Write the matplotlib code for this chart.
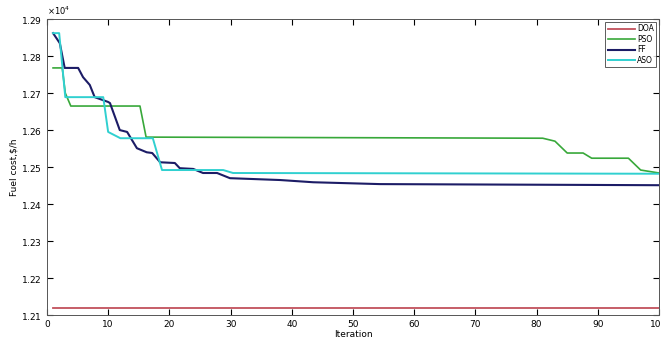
import matplotlib.pyplot as plt

# convergence curves (iteration, fuel cost $/h)
doa_it = [1, 100]
doa_cost = [12120, 12120]

pso_it = [1, 2.5, 3.0, 3.9, 15.2, 16.2, 81, 83, 85, 87.6, 89, 95, 97, 100]
pso_cost = [12768, 12768, 12700, 12665, 12665, 12581, 12578, 12570, 12538,
            12538, 12524, 12524, 12492, 12484]

ff_it = [1, 2.1, 2.9, 5.1, 5.9, 7.0, 7.8, 10.0, 10.3, 11.9, 13.1, 14.7, 16.3,
         17.2, 18.5, 20.9, 21.7, 23.9, 25.5, 27.8, 29.9, 38.1, 43.5, 54.4, 100]
ff_cost = [12862, 12835, 12768, 12768, 12743, 12722, 12689, 12676, 12673,
           12600, 12595, 12551, 12540, 12538, 12513, 12511, 12497, 12495,
           12484, 12484, 12470, 12465, 12459, 12454, 12451]

aso_it = [1, 2.0, 3.0, 9.2, 10.0, 12.0, 17.3, 18.8, 28.8, 30.4, 100]
aso_cost = [12862, 12862, 12689, 12689, 12595, 12578, 12578, 12492, 12492,
            12484, 12482]

fig = plt.figure(figsize=(6.61, 3.47), dpi=100)
ax = fig.add_axes([0.071, 0.092, 0.926, 0.853])

ax.plot(doa_it, doa_cost, color='#c2505c', lw=1.3, label='DOA')
ax.plot(pso_it, pso_cost, color='#38a83a', lw=1.2, label='PSO')
ax.plot(ff_it, ff_cost, color='#1c1c66', lw=1.5, label='FF')
ax.plot(aso_it, aso_cost, color='#30d0d0', lw=1.4, label='ASO')

ax.set_xlim(0, 100)
ax.set_ylim(12100, 12900)
ax.set_xticks(range(0, 101, 10))
ax.set_yticks(range(12100, 12901, 100))
ax.ticklabel_format(axis='y', style='sci', scilimits=(4, 4), useMathText=True)
ax.yaxis.get_offset_text().set_fontsize(6)
ax.tick_params(direction='in', top=True, right=True, labelsize=6.5,
               length=4, width=0.8)
for s in ax.spines.values():
    s.set_linewidth(0.7)
    s.set_color('#555555')

ax.set_xlabel('Iteration', fontsize=6.5, labelpad=1)
ax.set_ylabel('Fuel cost,$/h', fontsize=6.5, labelpad=2)

leg = ax.legend(loc='upper right', fontsize=5.5, frameon=True, fancybox=False,
                borderpad=0.3, labelspacing=0.2, handlelength=3.5,
                handletextpad=0.3, borderaxespad=0.4)
leg.get_frame().set_edgecolor('#333333')
leg.get_frame().set_linewidth(0.7)

fig.savefig('out.png', dpi=100)
